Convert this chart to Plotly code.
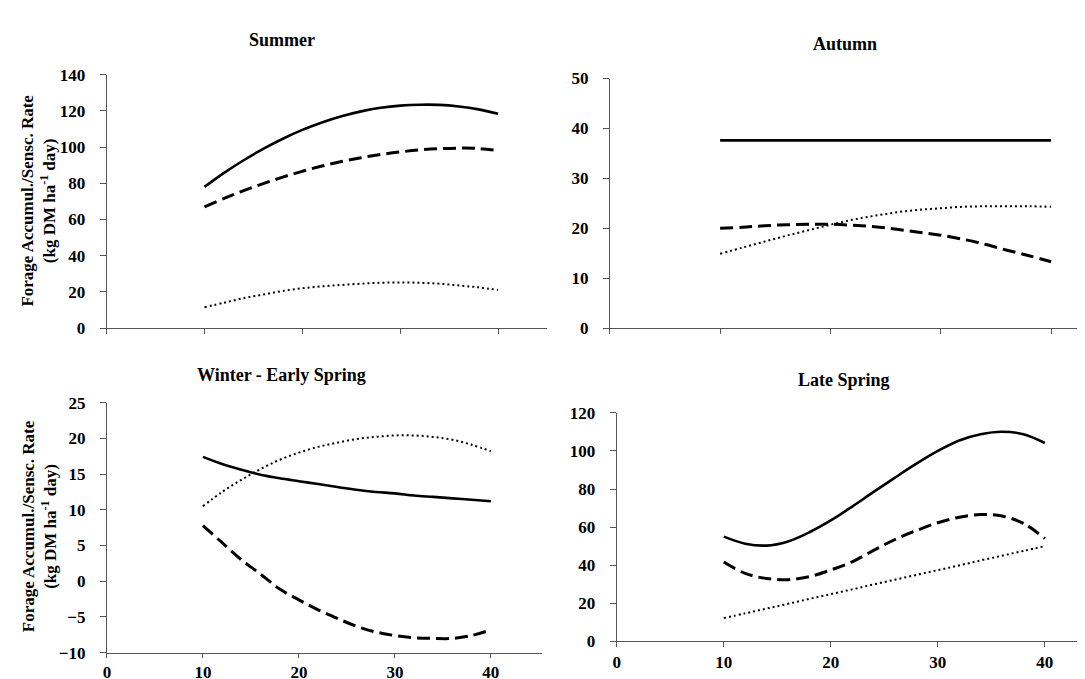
import plotly.graph_objects as go

# x positions (days / treatment level)
x_vals = [10, 12, 14, 16, 18, 20, 22, 24, 26, 28, 30, 32, 34, 36, 38, 40]

# Summer
summer_solid = [78, 85.7, 92.7, 99.0, 104.6, 109.5, 113.6, 117.0, 119.7, 121.7, 122.9, 123.4, 123.3, 122.4, 120.8, 118.4]
summer_dash = [67, 71.6, 75.9, 79.8, 83.4, 86.6, 89.5, 92.0, 94.1, 95.9, 97.3, 98.4, 99.1, 99.4, 99.2, 98.0]
summer_dot = [11.5, 14.0, 16.5, 18.5, 20.5, 22.0, 23.0, 23.8, 24.5, 25.0, 25.2, 25.0, 24.5, 23.5, 22.5, 21.0]

# Autumn
autumn_solid = [37.6] * 16
autumn_dash = [20.0, 20.2, 20.5, 20.7, 20.8, 20.8, 20.6, 20.3, 19.8, 19.2, 18.6, 17.8, 16.8, 15.6, 14.5, 13.3]
autumn_dot = [14.9, 16.1, 17.3, 18.5, 19.6, 20.7, 21.7, 22.5, 23.2, 23.7, 24.0, 24.3, 24.4, 24.4, 24.4, 24.3]

# Winter - Early Spring
winter_solid = [17.4, 16.4, 15.6, 14.9, 14.4, 14.0, 13.6, 13.2, 12.8, 12.5, 12.3, 12.0, 11.8, 11.6, 11.4, 11.2]
winter_dash = [7.8, 5.4, 3.0, 1.0, -1.1, -2.6, -4.0, -5.2, -6.3, -7.1, -7.6, -7.9, -8.0, -8.0, -7.6, -6.8]
winter_dot = [10.5, 12.5, 14.2, 15.7, 17.0, 18.0, 18.8, 19.4, 19.9, 20.2, 20.4, 20.4, 20.2, 19.8, 19.1, 18.2]

# Late Spring
late_solid = [55.0, 51.3, 50.3, 52.5, 57.3, 63.5, 70.8, 78.5, 86.0, 93.3, 100.0, 105.5, 108.8, 110.1, 108.8, 104.2]
late_dash = [41.7, 35.7, 33.0, 32.4, 34.0, 37.5, 41.8, 47.8, 53.5, 58.2, 62.3, 65.2, 66.6, 65.8, 62.0, 54.0]
late_dot = [12.2, 14.7, 17.2, 19.7, 22.3, 24.8, 27.3, 29.9, 32.4, 34.9, 37.4, 39.9, 42.5, 45.0, 47.5, 50.0]

panel_titles = ["Summer", "Autumn", "Winter - Early Spring", "Late Spring"]
y_title = "Forage Accumul./Sensc. Rate<br>(kg DM ha<sup>-1</sup> day)"
x_ticks = [0, 10, 20, 30, 40]

W, H = 1085, 679
FONT = "Liberation Serif"

panels = [
    (summer_solid, summer_dash, summer_dot),
    (autumn_solid, autumn_dash, autumn_dot),
    (winter_solid, winter_dash, winter_dot),
    (late_solid, late_dash, late_dot),
]

fig = go.Figure()
for i, (s, d, o) in enumerate(panels):
    xa = "x" if i == 0 else f"x{i+1}"
    ya = "y" if i == 0 else f"y{i+1}"
    fig.add_trace(go.Scatter(x=x_vals, y=o, mode="lines", xaxis=xa, yaxis=ya,
                             line=dict(color="black", width=2, dash="2px,3px", shape="spline"),
                             showlegend=False, hoverinfo="skip"))
    fig.add_trace(go.Scatter(x=x_vals, y=d, mode="lines", xaxis=xa, yaxis=ya,
                             line=dict(color="black", width=3, dash="13px,6px", shape="spline"),
                             showlegend=False, hoverinfo="skip"))
    fig.add_trace(go.Scatter(x=x_vals, y=s, mode="lines", xaxis=xa, yaxis=ya,
                             line=dict(color="black", width=2.6, shape="spline"),
                             showlegend=False, hoverinfo="skip"))

def px_x(p):
    return p / W

def px_y(p):
    return 1 - p / H

axis_col = "#555555"
tickfont = dict(family=FONT, size=17, color="black", weight="bold")

def xaxis(domain, rng, anchor, labels, ticklen=5):
    return dict(domain=domain, range=rng, anchor=anchor, showgrid=False, zeroline=False,
                showline=True, linecolor=axis_col, linewidth=1,
                tickmode="array", tickvals=x_ticks, ticks="outside", ticklen=ticklen,
                tickcolor=axis_col, showticklabels=labels, tickfont=tickfont,
                ticklabelstandoff=0)

def yaxis(domain, rng, dtick, anchor):
    return dict(domain=domain, range=rng, anchor=anchor, showgrid=False, zeroline=False,
                showline=True, linecolor=axis_col, linewidth=1,
                dtick=dtick, tick0=0, ticks="outside", ticklen=6, tickcolor=axis_col,
                tickfont=tickfont, ticklabelstandoff=11)

fig.update_layout(
    width=W, height=H,
    margin=dict(l=0, r=0, t=0, b=0),
    paper_bgcolor="white", plot_bgcolor="white",
    xaxis=xaxis([px_x(95), px_x(537)], [0, 45], "y", False),
    yaxis=yaxis([px_y(320), px_y(59.3)], [0, 140], 20, "x"),
    xaxis2=xaxis([px_x(600), 1.0], [0, 43.8], "y2", False),
    yaxis2=yaxis([px_y(320), px_y(63.3)], [0, 50], 10, "x2"),
    xaxis3=xaxis([px_x(95.3), px_x(531.7)], [0, 45.3], "y3", True, ticklen=4),
    yaxis3=yaxis([px_y(654), px_y(396.7)], [-10, 25], 5, "x3"),
    xaxis4=xaxis([px_x(607), 1.0], [0, 44.5], "y4", True),
    yaxis4=yaxis([px_y(642.3), px_y(407.3)], [0, 120], 20, "x4"),
)

title_pos = [(271, 24), (836, 28), (270, 368), (835, 373)]
for t, (cx, cy) in zip(panel_titles, title_pos):
    fig.add_annotation(text=t, x=px_x(cx), y=px_y(cy), xref="paper", yref="paper",
                       showarrow=False, xanchor="center", yanchor="middle",
                       font=dict(family=FONT, size=18, color="black", weight="bold"))

for cy in (189, 524):
    fig.add_annotation(text=y_title, x=px_x(27), y=px_y(cy), xref="paper", yref="paper",
                       showarrow=False, textangle=-90, xanchor="center", yanchor="middle",
                       font=dict(family=FONT, size=17, color="black", weight="bold"))

fig.write_html("out.html")
